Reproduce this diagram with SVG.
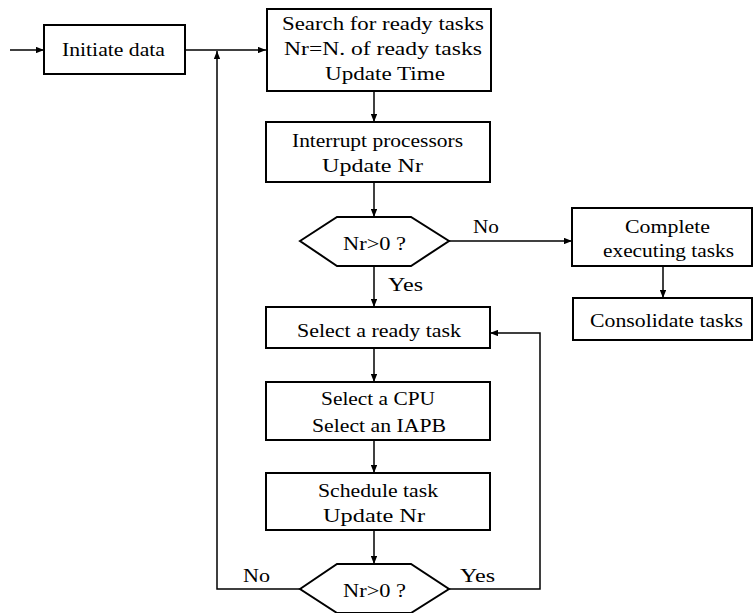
<svg xmlns="http://www.w3.org/2000/svg" width="753" height="613" viewBox="0 0 753 613">
  <style>
    .box { fill: #fff; stroke: #000; stroke-width: 2; }
    .wire { fill: none; stroke: #000; stroke-width: 1.5; }
    text { font-family: "Liberation Serif", "Times New Roman", Times, serif; font-size: 19px; fill: #000; }
  </style>
  <defs>
    <marker id="arrow" viewBox="0 0 10 8" refX="10" refY="4" markerWidth="8" markerHeight="6.4" markerUnits="userSpaceOnUse" orient="auto">
      <path d="M0,0 L10,4 L0,8 Z" fill="#000"/>
    </marker>
  </defs>
  <rect width="753" height="613" fill="#fff"/>

  <g id="connectors">
    <line class="wire" x1="10" y1="50" x2="44" y2="50" marker-end="url(#arrow)"/>
    <line class="wire" x1="185" y1="50" x2="266" y2="50" marker-end="url(#arrow)"/>
    <polyline class="wire" points="300,589 217,589 217,51" marker-end="url(#arrow)"/>
    <line class="wire" x1="374" y1="91" x2="374" y2="122" marker-end="url(#arrow)"/>
    <line class="wire" x1="374" y1="182" x2="374" y2="217" marker-end="url(#arrow)"/>
    <line class="wire" x1="374" y1="266" x2="374" y2="307" marker-end="url(#arrow)"/>
    <line class="wire" x1="374" y1="348" x2="374" y2="382" marker-end="url(#arrow)"/>
    <line class="wire" x1="374" y1="440" x2="374" y2="473" marker-end="url(#arrow)"/>
    <line class="wire" x1="374" y1="530" x2="374" y2="564" marker-end="url(#arrow)"/>
    <line class="wire" x1="449" y1="241" x2="572" y2="241" marker-end="url(#arrow)"/>
    <line class="wire" x1="663" y1="266" x2="663" y2="298" marker-end="url(#arrow)"/>
    <polyline class="wire" points="449,589 540,589 540,333 490,333" marker-end="url(#arrow)"/>
    <text x="473" y="233" textLength="26" lengthAdjust="spacingAndGlyphs">No</text>
    <text x="388" y="291" textLength="35" lengthAdjust="spacingAndGlyphs">Yes</text>
    <text x="243" y="582" textLength="27" lengthAdjust="spacingAndGlyphs">No</text>
    <text x="460" y="582" textLength="35" lengthAdjust="spacingAndGlyphs">Yes</text>
  </g>

  <g id="initiate">
    <rect class="box" x="44" y="25" width="141" height="49"/>
    <text x="62" y="56" textLength="103" lengthAdjust="spacingAndGlyphs">Initiate data</text>
  </g>

  <g id="search">
    <rect class="box" x="267" y="9" width="224" height="82"/>
    <text x="282" y="30" textLength="202" lengthAdjust="spacingAndGlyphs">Search for ready tasks</text>
    <text x="284" y="55" textLength="198" lengthAdjust="spacingAndGlyphs">Nr=N. of ready tasks</text>
    <text x="325" y="80" textLength="120" lengthAdjust="spacingAndGlyphs">Update Time</text>
  </g>

  <g id="interrupt">
    <rect class="box" x="266" y="122" width="224" height="60"/>
    <text x="292" y="147" textLength="171" lengthAdjust="spacingAndGlyphs">Interrupt processors</text>
    <text x="322" y="172" textLength="101" lengthAdjust="spacingAndGlyphs">Update Nr</text>
  </g>

  <g id="check-ready">
    <polygon class="box" points="300,241 337,217 411,217 449,241 411,266 337,266"/>
    <text x="343" y="250" textLength="63" lengthAdjust="spacingAndGlyphs">Nr&gt;0 ?</text>
  </g>

  <g id="complete">
    <rect class="box" x="572" y="208" width="180" height="58"/>
    <text x="625" y="233" textLength="85" lengthAdjust="spacingAndGlyphs">Complete</text>
    <text x="603" y="257" textLength="131" lengthAdjust="spacingAndGlyphs">executing tasks</text>
  </g>

  <g id="consolidate">
    <rect class="box" x="573" y="298" width="179" height="42"/>
    <text x="590" y="327" textLength="153" lengthAdjust="spacingAndGlyphs">Consolidate tasks</text>
  </g>

  <g id="select-task">
    <rect class="box" x="266" y="307" width="224" height="41"/>
    <text x="297" y="337" textLength="164" lengthAdjust="spacingAndGlyphs">Select a ready task</text>
  </g>

  <g id="select-cpu">
    <rect class="box" x="266" y="382" width="224" height="58"/>
    <text x="321" y="405" textLength="114" lengthAdjust="spacingAndGlyphs">Select a CPU</text>
    <text x="312" y="432" textLength="134" lengthAdjust="spacingAndGlyphs">Select an IAPB</text>
  </g>

  <g id="schedule">
    <rect class="box" x="266" y="473" width="224" height="57"/>
    <text x="318" y="497" textLength="120" lengthAdjust="spacingAndGlyphs">Schedule task</text>
    <text x="323" y="522" textLength="102" lengthAdjust="spacingAndGlyphs">Update Nr</text>
  </g>

  <g id="check-more">
    <polygon class="box" points="300,589 337,564 411,564 449,589 411,613 337,613"/>
    <text x="343" y="597" textLength="63" lengthAdjust="spacingAndGlyphs">Nr&gt;0 ?</text>
  </g>
</svg>
